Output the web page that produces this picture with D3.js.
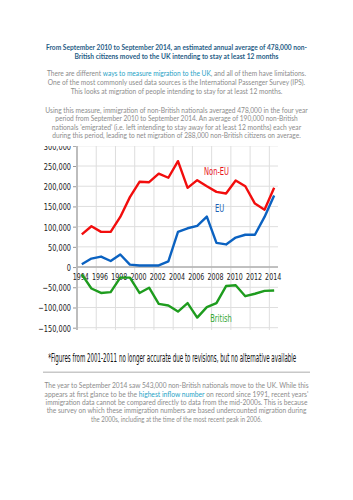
<!DOCTYPE html>
<html>
<head>
<meta charset="utf-8">
<script src="https://cdn.jsdelivr.net/npm/d3@7"></script>
<style>
  body { margin: 0; background: #fff; }
  svg { display: block; }
</style>
</head>
<body>
<svg id="chart"></svg>
<script>
// values (thousands of people)
const years = d3.range(1994, 2015);
const nonEU = [81, 101, 87, 87, 124, 173, 211, 210, 231, 221, 262, 196, 215, 200, 186, 182, 214, 200, 157, 142, 196];
const eu = [7, 21, 26, 15, 31, 6, 4, 4, 4, 14, 87, 96, 102, 125, 60, 56, 73, 80, 80, 124, 177];
const british = [-18, -53, -64, -62, -26, -26, -64, -51, -91, -95, -110, -89, -125, -99, -89, -47, -45, -72, -66, -59, -58];

const yTicks = [-150000, -100000, -50000, 0, 50000, 100000, 150000, 200000, 250000, 300000];
const xTickYears = [1994, 1996, 1998, 2000, 2002, 2004, 2006, 2008, 2010, 2012, 2014];

const title = [
    "From September 2010 to September 2014, an estimated annual average of 478,000 non-",
    "British citizens moved to the UK intending to stay at least 12 months"
];
// each line: [before link, link, after link]
const para1 = [
    ["There are different ", "ways to measure migration to the UK", ", and all of them have limitations."],
    ["One of the most commonly used data sources is the International Passenger Survey (IPS).", "", ""],
    ["This looks at migration of people intending to stay for at least 12 months.", "", ""]
];
const para2 = [
    ["Using this measure, immigration of non-British nationals averaged 478,000 in the four year", "", ""],
    ["period from September 2010 to September 2014. An average of 190,000 non-British", "", ""],
    ["nationals 'emigrated' (i.e. left intending to stay away for at least 12 months) each year", "", ""],
    ["during this period, leading to net migration of 288,000 non-British citizens on average.", "", ""]
];
const footnote = "*Figures from 2001-2011 no longer accurate due to revisions, but no alternative available";
const para3 = [
    ["The year to September 2014 saw 543,000 non-British nationals move to the UK. While this", "", ""],
    ["appears at first glance to be the ", "highest inflow number", " on record since 1991, recent years'"],
    ["immigration data cannot be compared directly to data from the mid-2000s. This is because", "", ""],
    ["the survey on which these immigration numbers are based undercounted migration during", "", ""],
    ["the 2000s, including at the time of the most recent peak in 2006.", "", ""]
];

const width = 353, height = 500;
const svg = d3.select('#chart').attr('width', width).attr('height', height);
svg.append('rect').attr('width', width).attr('height', height).attr('fill', '#fff');

const grey = '#8c8c8c';
const linkCol = '#27a3c6';
const cx = 176.5;

// narrow a text to a given width with a horizontal scale (keeps the box honest)
function stretchTo(t, px, py, w) {
    const len = t.node().getComputedTextLength();
    t.attr('x', 0).attr('y', 0)
        .attr('transform', `translate(${px},${py}) scale(${w / len},1)`);
}
function condense(sel, k, px, py) {
    sel.each(function(d) {
        const p = typeof px === 'function' ? px(d) : px;
        const q = typeof py === 'function' ? py(d) : py;
        d3.select(this).attr('x', 0).attr('y', 0)
            .attr('transform', `translate(${p},${q}) scale(${k},1)`);
    });
}

function paragraph(lines, ys, widths, size) {
    lines.forEach((parts, i) => {
        const t = svg.append('text')
            .attr('text-anchor', 'middle')
            .style('font-family', 'Lato, "Open Sans", sans-serif')
            .style('font-size', size + 'px')
            .attr('fill', grey);
        t.append('tspan').text(parts[0]);
        if (parts[1]) t.append('tspan').attr('fill', linkCol).text(parts[1]);
        if (parts[2]) t.append('tspan').text(parts[2]);
        stretchTo(t, cx, ys[i], widths[i]);
    });
}

// title
title.forEach((line, i) => {
    const t = svg.append('text')
        .attr('text-anchor', 'middle')
        .style('font-family', 'Lato, "Open Sans", sans-serif')
        .style('font-size', '7.6px')
        .style('font-weight', 'bold')
        .attr('fill', '#1f5d86')
        .text(line);
    stretchTo(t, cx, [49.5, 58.5][i], [261.6, 204][i]);
});

paragraph(para1, [76, 85, 93.8], [259, 257.3, 211.7], 7.4);
paragraph(para2, [112.8, 121.2, 129.5, 137.8], [262.3, 242.4, 249.3, 248.3], 7.4);

// chart
const x = d3.scaleLinear().domain([1993.5, 2014.4]).range([77, 278]);
const y = d3.scaleLinear().domain([-150000, 300000]).range([327.7, 145.8]);

svg.append('clipPath').attr('id', 'top')
    .append('rect').attr('x', 0).attr('y', 146).attr('width', width).attr('height', 200);

const chart = svg.append('g').attr('clip-path', 'url(#top)');
const chartFont = '"Liberation Sans Narrow", "DejaVu Sans Condensed", sans-serif';

// grid
chart.append('g')
    .selectAll('line')
    .data(yTicks)
    .join('line')
    .attr('x1', 77).attr('x2', 278)
    .attr('y1', d => y(d)).attr('y2', d => y(d))
    .attr('stroke', '#dedede').attr('stroke-width', 1);

chart.append('g')
    .selectAll('line')
    .data(d3.range(1995.5, 2014, 2))
    .join('line')
    .attr('x1', d => x(d)).attr('x2', d => x(d))
    .attr('y1', 143).attr('y2', 330)
    .attr('stroke', '#dedede').attr('stroke-width', 1);

// y axis
const yAxis = chart.append('g')
    .attr('transform', 'translate(77,0)')
    .call(d3.axisLeft(y).tickValues(yTicks).tickSize(4).tickPadding(2).tickFormat(d3.format(',')));
yAxis.select('.domain').remove();
yAxis.selectAll('.tick line').attr('stroke', '#999');
const yText = yAxis.selectAll('text')
    .style('font-family', chartFont)
    .style('font-size', '9.5px')
    .attr('dy', null)
    .attr('dominant-baseline', 'central')
    .attr('fill', '#222');
condense(yText, 0.77, -6, 0);

chart.append('line')
    .attr('x1', 77).attr('x2', 77).attr('y1', 143).attr('y2', 330)
    .attr('stroke', '#bdbdbd').attr('stroke-width', 2);

// x axis at zero
chart.append('line')
    .attr('x1', 77).attr('x2', 278).attr('y1', y(0)).attr('y2', y(0))
    .attr('stroke', '#b0b0b0').attr('stroke-width', 1.5);

const xLabels = chart.append('g')
    .selectAll('text')
    .data(xTickYears)
    .join('text')
    .attr('text-anchor', 'middle')
    .style('font-family', chartFont)
    .style('font-size', '9.5px')
    .attr('fill', '#222')
    .text(d => d);
condense(xLabels, 0.74, d => x(d) - 1, y(0) + 12.5);

// series
const line = d3.line()
    .x((d, i) => x(years[i]))
    .y(d => y(d * 1000));

const series = [
    { name: 'Non-EU', values: nonEU, color: '#f20d0d', label: '#e8141c', lx: 216.5, ly: 175 },
    { name: 'EU', values: eu, color: '#0b62c1', label: '#1b5fb5', lx: 219.7, ly: 212 },
    { name: 'British', values: british, color: '#1e9c1e', label: '#34a834', lx: 221, ly: 322 }
];

chart.append('g')
    .selectAll('path')
    .data(series)
    .join('path')
    .attr('d', d => line(d.values))
    .attr('fill', 'none')
    .attr('stroke', d => d.color)
    .attr('stroke-width', 2.4)
    .attr('stroke-linejoin', 'round');

const seriesLabels = chart.append('g')
    .selectAll('text')
    .data(series)
    .join('text')
    .attr('text-anchor', 'middle')
    .style('font-family', chartFont)
    .style('font-size', '10px')
    .attr('fill', d => d.label)
    .text(d => d.name);
condense(seriesLabels, 0.75, d => d.lx, d => d.ly);

// footnote
const fn = svg.append('text')
    .style('font-family', chartFont)
    .style('font-size', '11.5px')
    .attr('fill', '#111')
    .text(footnote);
stretchTo(fn, 48.3, 362, 248.4);

svg.append('line')
    .attr('x1', 43).attr('x2', 310).attr('y1', 372.3).attr('y2', 372.3)
    .attr('stroke', '#c8c8c8').attr('stroke-width', 1.6);

paragraph(para3, [388.3, 396.7, 405, 413.3, 421.6], [264, 264, 262, 260, 171], 7.4);
</script>
</body>
</html>
